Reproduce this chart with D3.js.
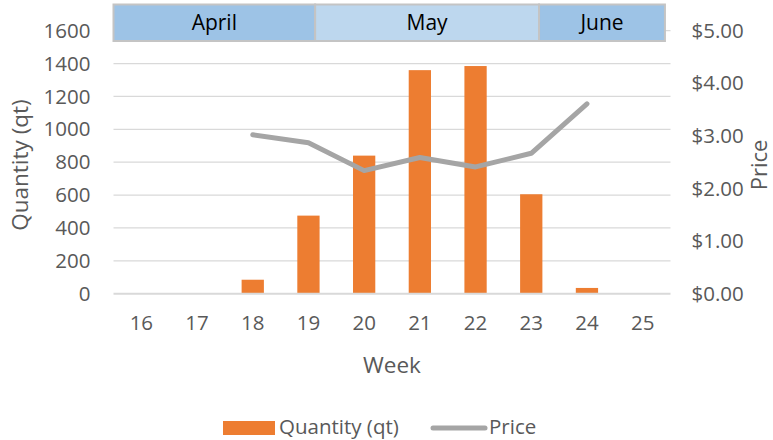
<!DOCTYPE html>
<html>
<head>
<meta charset="utf-8">
<script src="https://cdn.jsdelivr.net/npm/d3@7"></script>
<style>
  body { margin: 0; background: #fff; }
  text { font-family: "Open Sans", sans-serif; fill: #595959; }
</style>
</head>
<body>
<div id="container"></div>
<script>
var weeks = [16, 17, 18, 19, 20, 21, 22, 23, 24, 25];
var quantity = [null, null, 85, 475, 840, 1360, 1385, 605, 35, null];
var price = [null, null, 3.02, 2.87, 2.34, 2.59, 2.41, 2.67, 3.61, null];
var qtyTicks = [0, 200, 400, 600, 800, 1000, 1200, 1400, 1600];
var priceTicks = [0, 1, 2, 3, 4, 5];
// month bands, in week units (edges of the band scale)
var months = ["April", "May", "June"];
var monthStart = [15.5, 19.12, 23.14];
var monthEnd = [19.12, 23.14, 25.4];
var monthFill = ["#9dc3e6", "#bdd7ee", "#9dc3e6"];

var width = 773, height = 440;
var plotLeft = 113.5, plotRight = 670.5, plotTop = 30.7, plotBottom = 293.7;

var svg = d3.select("#container").append("svg")
    .attr("width", width)
    .attr("height", height);

var x = d3.scaleBand()
    .domain(weeks)
    .range([plotLeft, plotRight])
    .paddingInner(0.6)
    .paddingOuter(0.3);
// continuous week position for the month band
var xw = d3.scaleLinear().domain([15.5, 25.5]).range([plotLeft, plotRight]);

var y = d3.scaleLinear().domain([0, 1600]).range([plotBottom, plotTop]);
var y2 = d3.scaleLinear().domain([0, 5]).range([plotBottom, plotTop]);

// gridlines
svg.append("g")
   .selectAll("line")
   .data(qtyTicks.filter(d => d > 0))
   .enter().append("line")
   .attr("x1", plotLeft).attr("x2", plotRight)
   .attr("y1", d => y(d)).attr("y2", d => y(d))
   .attr("stroke", "#d9d9d9").attr("stroke-width", 1.3);

// left axis
svg.append("g")
   .attr("transform", "translate(" + (plotLeft - 12) + ",0)")
   .call(d3.axisLeft(y).tickValues(qtyTicks).tickSize(0).tickPadding(11)
          .tickFormat(d3.format("d")))
   .call(g => g.select(".domain").remove())
   .selectAll("text").style("font-size", "20.5px").attr("fill", "#595959");

// right axis
svg.append("g")
   .attr("transform", "translate(" + (plotRight + 10) + ",0)")
   .call(d3.axisRight(y2).tickValues(priceTicks).tickSize(0).tickPadding(11)
          .tickFormat(d => "$" + d3.format(".2f")(d)))
   .call(g => g.select(".domain").remove())
   .selectAll("text").style("font-size", "20.5px").attr("fill", "#595959");

// bars
svg.append("g")
   .selectAll("rect")
   .data(weeks.map((w, i) => ({week: w, q: quantity[i]})).filter(d => d.q != null))
   .enter().append("rect")
   .attr("x", d => x(d.week))
   .attr("y", d => y(d.q))
   .attr("width", x.bandwidth())
   .attr("height", d => y(0) - y(d.q))
   .attr("fill", "#ed7d31");

// baseline
svg.append("line")
   .attr("x1", plotLeft).attr("x2", plotRight)
   .attr("y1", y(0)).attr("y2", y(0))
   .attr("stroke", "#d9d9d9").attr("stroke-width", 2);

// x axis labels
svg.append("g")
   .attr("transform", "translate(0," + plotBottom + ")")
   .call(d3.axisBottom(x).tickSize(0).tickPadding(22))
   .call(g => g.select(".domain").remove())
   .selectAll("text").style("font-size", "20.5px").attr("fill", "#595959");

// price line
var line = d3.line()
    .defined(d => d.p != null)
    .x(d => x(d.week) + x.bandwidth() / 2)
    .y(d => y2(d.p));
svg.append("path")
   .datum(weeks.map((w, i) => ({week: w, p: price[i]})))
   .attr("d", line)
   .attr("fill", "none")
   .attr("stroke", "#a5a5a5")
   .attr("stroke-width", 5)
   .attr("stroke-linecap", "round")
   .attr("stroke-linejoin", "round");

// month band
var mg = svg.append("g");
mg.selectAll("rect")
  .data(months)
  .enter().append("rect")
  .attr("x", (d, i) => xw(monthStart[i]))
  .attr("y", 4.5)
  .attr("width", (d, i) => xw(monthEnd[i]) - xw(monthStart[i]))
  .attr("height", 36.5)
  .attr("fill", (d, i) => monthFill[i])
  .attr("stroke", "#c4c4c4")
  .attr("stroke-width", 2);
mg.selectAll("text")
  .data(months)
  .enter().append("text")
  .attr("x", (d, i) => (xw(monthStart[i]) + xw(monthEnd[i])) / 2)
  .attr("y", 30)
  .attr("text-anchor", "middle")
  .style("font-size", "21px")
  .style("fill", "#000")
  .text(d => d);

// axis titles
svg.append("text")
   .attr("transform", "translate(28,165) rotate(-90)")
   .attr("text-anchor", "middle")
   .style("font-size", "22.5px")
   .text("Quantity (qt)");
svg.append("text")
   .attr("transform", "translate(767,165) rotate(-90)")
   .attr("text-anchor", "middle")
   .style("font-size", "22px")
   .text("Price");
svg.append("text")
   .attr("x", (plotLeft + plotRight) / 2)
   .attr("y", 373)
   .attr("text-anchor", "middle")
   .style("font-size", "22.5px")
   .text("Week");

// legend
var lg = svg.append("g");
lg.append("rect")
  .attr("x", 223).attr("y", 421).attr("width", 52).attr("height", 14)
  .attr("fill", "#ed7d31");
lg.append("text")
  .attr("x", 279).attr("y", 434)
  .style("font-size", "20.5px")
  .text("Quantity (qt)");
lg.append("line")
  .attr("x1", 433).attr("x2", 485).attr("y1", 428).attr("y2", 428)
  .attr("stroke", "#a5a5a5").attr("stroke-width", 5)
  .attr("stroke-linecap", "round");
lg.append("text")
  .attr("x", 489).attr("y", 434)
  .style("font-size", "20.5px")
  .text("Price");
</script>
</body>
</html>
